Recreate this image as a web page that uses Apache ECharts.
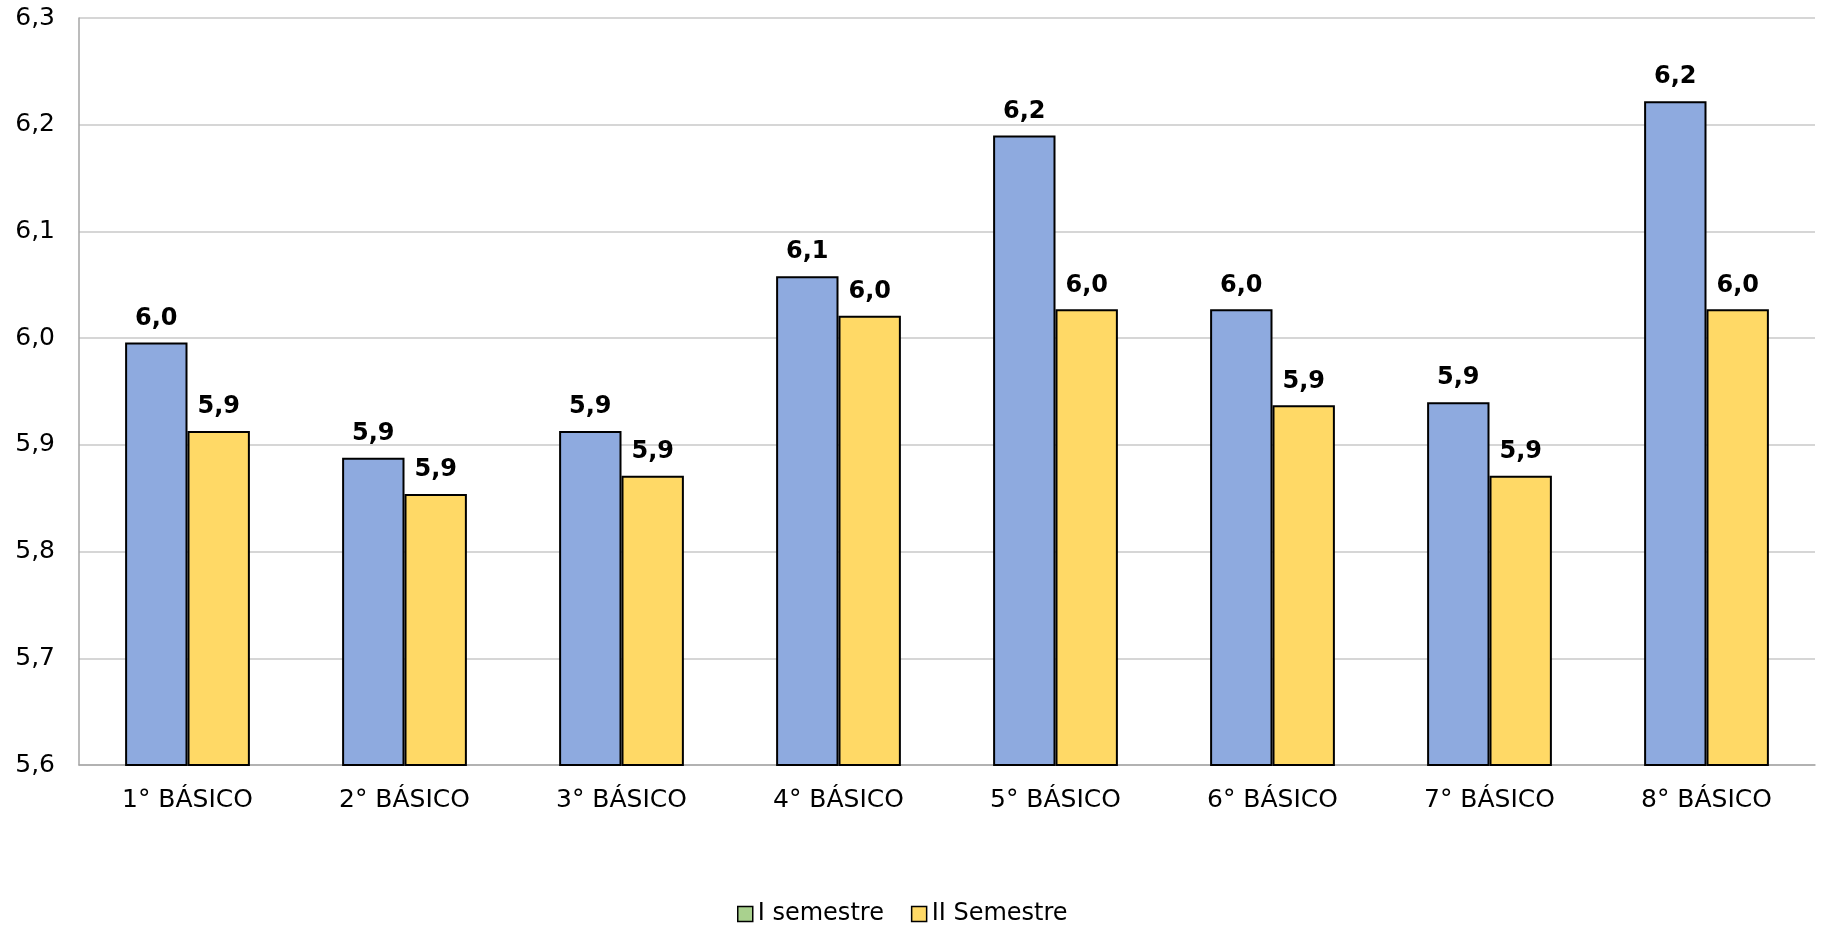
<!DOCTYPE html>
<html>
<head>
<meta charset="utf-8">
<script src="https://cdn.jsdelivr.net/npm/echarts@6/dist/echarts.min.js"></script>
<style>
html,body{margin:0;padding:0;background:#fff;}
#chart{width:1828px;height:927px;}
</style>
</head>
<body>
<div id="chart"></div>
<script>
const categories = ['1° BÁSICO','2° BÁSICO','3° BÁSICO','4° BÁSICO','5° BÁSICO','6° BÁSICO','7° BÁSICO','8° BÁSICO'];
const semestre1 = [5.996, 5.888, 5.913, 6.058, 6.190, 6.027, 5.940, 6.222];
const semestre2 = [5.913, 5.854, 5.871, 6.021, 6.027, 5.937, 5.871, 6.027];
const seriesNames = ['I semestre', 'II Semestre'];

const fmt = v => v.toFixed(1).replace('.', ',');
const FONT = 'DejaVu Sans';

const chart = echarts.init(document.getElementById('chart'));
const labelCfg = {
  show: true, position: 'top', distance: 12,
  formatter: p => fmt(p.value),
  fontFamily: FONT, fontWeight: 'bold', fontSize: 24, color: '#000'
};
chart.setOption({
  animation: false,
  grid: {left: 79, right: 13, top: 18, bottom: 162},
  legend: {
    top: 897, left: 732,
    itemWidth: 15, itemHeight: 15, itemGap: 27,
    textStyle: {fontFamily: FONT, fontSize: 24, color: '#000'},
    data: [
      {name: seriesNames[0], icon: 'rect', itemStyle: {color: '#a9d18e', borderColor: '#000', borderWidth: 1.5}},
      {name: seriesNames[1], icon: 'rect', itemStyle: {color: '#ffd966', borderColor: '#000', borderWidth: 1.5}}
    ]
  },
  xAxis: {
    type: 'category', data: categories,
    axisLine: {lineStyle: {color: '#a6a6a6', width: 1.5}},
    axisTick: {show: false},
    axisLabel: {fontFamily: FONT, fontSize: 25, color: '#000', margin: 23}
  },
  yAxis: {
    type: 'value', min: 5.6, max: 6.3, interval: 0.1,
    axisLine: {show: true, lineStyle: {color: '#a6a6a6', width: 1.5}},
    axisTick: {show: false},
    axisLabel: {fontFamily: FONT, fontSize: 25, color: '#000', margin: 24, formatter: v => fmt(v)},
    splitLine: {lineStyle: {color: '#c8c8c8', width: 1.5}}
  },
  series: [
    {name: seriesNames[0], type: 'bar', data: semestre1, barGap: '0%', barCategoryGap: '42.5%',
     itemStyle: {color: '#8eaadf', borderColor: '#000', borderWidth: 2}, label: labelCfg},
    {name: seriesNames[1], type: 'bar', data: semestre2,
     itemStyle: {color: '#ffd966', borderColor: '#000', borderWidth: 2}, label: labelCfg}
  ]
});
</script>
</body>
</html>
